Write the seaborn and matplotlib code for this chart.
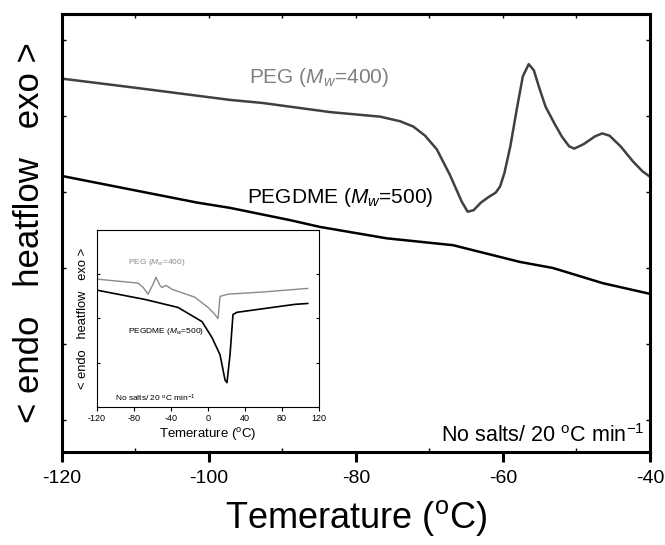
"""DSC heatflow curves of PEG and PEGDME, with a wide-range inset."""

import matplotlib.pyplot as plt
import matplotlib.ticker as ticker
import seaborn as sns

# main panel: -120 .. -40 degC
peg_T = [-120, -110, -97.1, -92.7, -83.5, -76.7, -74.0, -72.2, -70.6, -69.0,
         -67.2, -65.6, -64.8, -64.0, -63.0, -62.0, -61.0, -60.4, -59.8, -59.0,
         -58.1, -57.3, -56.5, -55.8, -55.0, -54.2, -53.0, -52.0, -51.0, -50.3,
         -49.0, -47.5, -46.5, -45.5, -44.0, -42.3, -41.0, -40.0]
peg_y = [4.49, 4.37, 4.21, 4.17, 4.05, 3.99, 3.93, 3.86, 3.74, 3.56,
         3.22, 2.87, 2.74, 2.76, 2.86, 2.93, 2.99, 3.07, 3.25, 3.60,
         4.10, 4.52, 4.68, 4.60, 4.35, 4.12, 3.90, 3.73, 3.60, 3.57,
         3.63, 3.73, 3.77, 3.74, 3.60, 3.40, 3.27, 3.20]

pegdme_T = [-120, -101.6, -97.1, -89.0, -84.9, -75.8, -66.8, -57.7, -53.2, -46.4, -40]
pegdme_y = [3.21, 2.86, 2.79, 2.63, 2.54, 2.39, 2.30, 2.08, 2.00, 1.80, 1.66]

# inset: -120 .. 120 degC
ins_peg_T = [-120, -75.7, -70, -64.9, -60, -56.2, -52, -49.7, -45.4, -38.9,
             -14.1, 0.0, 7, 10.8, 13.0, 21.6, 60, 108]
ins_peg_y = [2.89, 2.80, 2.70, 2.55, 2.75, 2.93, 2.75, 2.70, 2.75, 2.66,
             2.48, 2.25, 2.10, 2.00, 2.50, 2.55, 2.60, 2.68]

ins_pegdme_T = [-120, -68.1, -32.4, -6.5, 4.3, 13.0, 18.4, 20.5, 23.8, 27.0,
                31.4, 80.0, 94.1, 108]
ins_pegdme_y = [2.64, 2.43, 2.25, 1.93, 1.57, 1.18, 0.61, 0.55, 1.18, 2.09,
                2.14, 2.28, 2.32, 2.34]

sns.set_style('ticks')
plt.rcParams['font.family'] = ['Liberation Sans', 'DejaVu Sans']
plt.rcParams['mathtext.fontset'] = 'custom'
plt.rcParams['mathtext.rm'] = 'Liberation Sans'
plt.rcParams['mathtext.it'] = 'Liberation Sans:italic'
plt.rcParams['axes.unicode_minus'] = False
for key in ('text.color', 'axes.labelcolor', 'xtick.color', 'ytick.color'):
    plt.rcParams[key] = 'black'

fig = plt.figure(figsize=(6.65, 5.45), dpi=100)
ax = fig.add_axes([0.0932, 0.1706, 0.8842, 0.8037])

sns.lineplot(x=peg_T, y=peg_y, ax=ax, color='#404040', lw=1.8,
             estimator=None, sort=False)
sns.lineplot(x=pegdme_T, y=pegdme_y, ax=ax, color='black', lw=1.8,
             estimator=None, sort=False)

ax.set_xlim(-120, -40)
ax.set_ylim(-0.42, 5.34)
ax.xaxis.set_major_locator(ticker.MultipleLocator(20))
ax.xaxis.set_minor_locator(ticker.MultipleLocator(10))
ax.yaxis.set_major_locator(ticker.MultipleLocator(1))
ax.set_yticklabels([])
ax.tick_params(axis='x', which='major', direction='out', length=7, width=2.2,
               labelsize=14, pad=6)
ax.tick_params(axis='x', which='minor', direction='in', length=3, width=1)
ax.tick_params(axis='y', which='major', direction='in', length=3, width=1,
               left=True, right=True)
for sp in ax.spines.values():
    sp.set_visible(True)
    sp.set_linewidth(2.2)
    sp.set_color('black')

# small inward ticks along the top edge
top = ax.secondary_xaxis('top')
top.xaxis.set_major_locator(ticker.MultipleLocator(10))
top.tick_params(direction='in', length=3, width=1, labeltop=False)
top.spines['top'].set_linewidth(2.2)

ax.set_xlabel(r'Temerature ($^{\mathrm{o}}$C)', fontsize=26, labelpad=8)
ax.set_ylabel('< endo   heatflow   exo >', fontsize=25, labelpad=8)

ax.text(-94.6, 4.50, r'PEG ($M_w$=400)', color='#808080', fontsize=15,
        va='center', ha='left')
ax.text(-94.8, 2.93, r'PEGDME ($M_w$=500)', color='black', fontsize=15,
        va='center', ha='left')
ax.text(-40.7, -0.2, r'No salts/ 20 $^{\mathrm{o}}$C min$^{-1}$', color='black',
        fontsize=15.5, va='center', ha='right')

# inset
ins = fig.add_axes([0.1459, 0.2532, 0.3338, 0.3248])
sns.lineplot(x=ins_peg_T, y=ins_peg_y, ax=ins, color='#8a8a8a', lw=1.0,
             estimator=None, sort=False)
sns.lineplot(x=ins_pegdme_T, y=ins_pegdme_y, ax=ins, color='black', lw=1.2,
             estimator=None, sort=False)
ins.set_xlim(-120, 120)
ins.set_ylim(0, 4)
ins.xaxis.set_major_locator(ticker.MultipleLocator(40))
ins.yaxis.set_major_locator(ticker.MultipleLocator(1))
ins.set_yticklabels([])
ins.tick_params(axis='x', direction='out', length=3, width=0.8, labelsize=6.5,
                pad=2)
ins.tick_params(axis='y', direction='in', length=2.5, width=0.8,
                left=True, right=True)
for sp in ins.spines.values():
    sp.set_visible(True)
    sp.set_linewidth(0.8)
    sp.set_color('black')
ins.set_xlabel(r'Temerature ($^{\mathrm{o}}$C)', fontsize=9.5, labelpad=2)
ins.set_ylabel('< endo   heatflow   exo >', fontsize=9.3, labelpad=2)
ins.text(-86.5, 3.27, r'PEG ($M_w$=400)', color='#8a8a8a', fontsize=6,
         va='center', ha='left')
ins.text(-86.5, 1.70, r'PEGDME ($M_w$=500)', color='black', fontsize=6,
         va='center', ha='left')
ins.text(-100.5, 0.2, r'No salts/ 20 $^{\mathrm{o}}$C min$^{-1}$', color='black',
         fontsize=6, va='center', ha='left')

fig.savefig('out.png', dpi=100)
